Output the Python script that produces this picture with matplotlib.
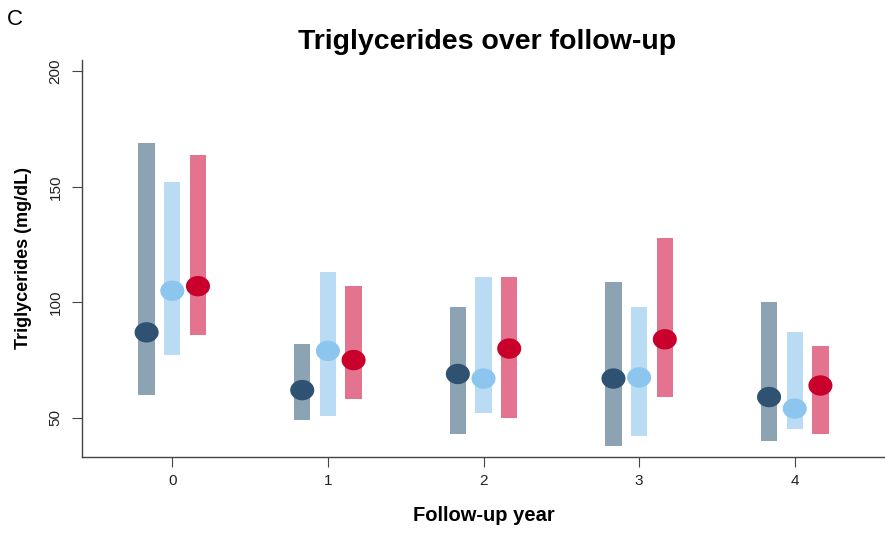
import numpy as np
import matplotlib
matplotlib.use("Agg")
import matplotlib.pyplot as plt

plt.rcParams['font.family'] = ['Liberation Sans', 'DejaVu Sans']

# data
years = [0, 1, 2, 3, 4]
groups = ["g1", "g2", "g3"]

g1_mid = [87, 62, 69, 67, 59]
g1_low = [60, 49, 43, 38, 40]
g1_high = [169, 82, 98, 109, 100]

g2_mid = [105, 79, 67, 67.5, 54]
g2_low = [77, 51, 52, 42, 45]
g2_high = [152, 113, 111, 98, 87]

g3_mid = [107, 75, 80, 84, 64]
g3_low = [86, 58, 50, 59, 43]
g3_high = [164, 107, 111, 128, 81]

bar_colors = ["#8ca3b3", "#b9dcf4", "#e3738e"]
dot_colors = ["#2f5272", "#8cc5ee", "#c9002b"]
offsets = [-0.165, 0.0, 0.165]

mids = [g1_mid, g2_mid, g3_mid]
lows = [g1_low, g2_low, g3_low]
highs = [g1_high, g2_high, g3_high]

# slightly wide oval marker, like the original
t = np.linspace(0, 2 * np.pi, 64)
oval = np.column_stack([1.18 * np.cos(t), np.sin(t)])

fig = plt.figure(figsize=(8.85, 5.34), dpi=100)
ax = fig.add_axes([0.0927, 0.144, 0.9073, 0.744])

x = np.array(years, dtype=float)
for k in range(3):
    lo = np.array(lows[k])
    hi = np.array(highs[k])
    ax.bar(x + offsets[k], hi - lo, bottom=lo, width=0.105,
           color=bar_colors[k], zorder=2)
    ax.scatter(x + offsets[k], mids[k], s=300, marker=oval, color=dot_colors[k],
               edgecolors='none', zorder=3)

ax.set_xlim(-0.58, 4.58)
ax.set_ylim(33, 205)
ax.set_xticks(years)
ax.set_yticks([50, 100, 150, 200])
ax.tick_params(axis='both', direction='out', length=7, color='#444444',
               labelsize=11, labelcolor='#222222')
ax.tick_params(axis='y', pad=7)
ax.tick_params(axis='x', pad=5)
for lab in ax.get_yticklabels():
    lab.set_rotation(90)
    lab.set_va('center')

for s in ['top', 'right']:
    ax.spines[s].set_visible(False)
for s in ['left', 'bottom']:
    ax.spines[s].set_color('#444444')
    ax.spines[s].set_linewidth(1.0)

ax.set_xlabel("Follow-up year", fontsize=14.5, fontweight='bold', labelpad=13)
ax.set_ylabel("Triglycerides (mg/dL)", fontsize=13, fontweight='bold', labelpad=12)
fig.text(0.55, 0.921, "Triglycerides over follow-up", ha='center', va='center',
         fontsize=20.5, fontweight='bold')
fig.text(0.008, 0.963, "C", ha='left', va='center', fontsize=16)

fig.savefig("out.png", dpi=100)
